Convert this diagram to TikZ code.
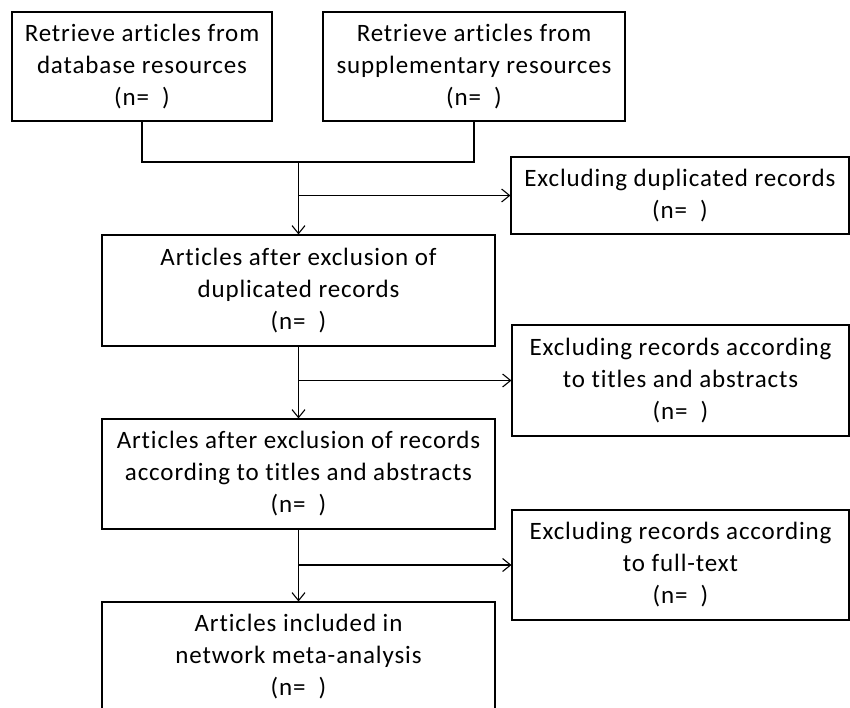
\documentclass[tikz,border=0pt]{standalone}
\usepackage{fontspec}
\setmainfont{Carlito}[LetterSpace=3.5,Ligatures={NoCommon,NoRare}]
\usetikzlibrary{arrows.meta}
\begin{document}
\begin{tikzpicture}[x=1pt,y=-1pt,
  box/.style={draw, rectangle, align=center, line width=1.1pt, inner sep=0pt,
    font=\fontsize{25}{32}\selectfont},
  link/.style={draw, line width=1.1pt},
  tip/.style={-{Straight Barb[length=8pt,width=13pt,line width=1.1pt]}}]
\useasboundingbox (0,0) rectangle (850,708);

\node[box, minimum width=260, minimum height=109] (1) at (142,66.5) {Retrieve articles from\\database resources\\(n=\ \ )};
\node[box, minimum width=302, minimum height=109] (2) at (474,66.5) {Retrieve articles from\\supplementary resources\\(n=\ \ )};
\node[box, minimum width=338, minimum height=77] (3) at (680,195.5) {Excluding duplicated records\\(n=\ \ )};
\node[box, minimum width=393, minimum height=111] (4) at (298.5,290.5) {Articles after exclusion of\\duplicated records\\(n=\ \ )};
\node[box, minimum width=337, minimum height=111] (5) at (680.5,380.5) {Excluding records according\\to titles and abstracts\\(n=\ \ )};
\node[box, minimum width=393, minimum height=110] (6) at (298.5,474) {Articles after exclusion of records\\according to titles and abstracts\\(n=\ \ )};
\node[box, minimum width=337, minimum height=110] (7) at (680.5,565) {Excluding records according\\to full-text\\(n=\ \ )};
\node[box, minimum width=393, minimum height=110] (8) at (298.5,657) {Articles included in\\network meta-analysis\\(n=\ \ )};

\coordinate (j) at (298.5,162);

\path[link,-] (1.south) |- (j) -| (2.south);
\path[link,tip] (j) -- (4.north);
\path[link,tip] (3.west -| j) -- (3.west);

\path[link,tip] (4.south) -- (6.north);
\path[link,tip] (5.west -| 4.south) -- (5.west);

\path[link,tip] (6.south) -- (8.north);
\path[link,tip] (7.west -| 6.south) -- (7.west);
\end{tikzpicture}
\end{document}
